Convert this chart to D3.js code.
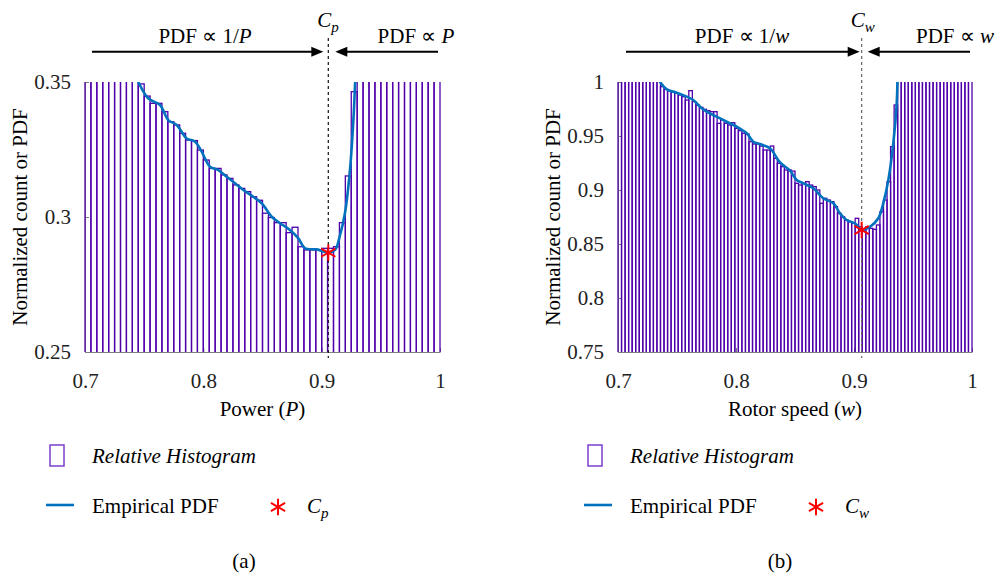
<!DOCTYPE html>
<html>
<head>
<meta charset="utf-8">
<script src="https://cdn.jsdelivr.net/npm/d3@7"></script>
<style>
body{margin:0;background:#fff}
svg{display:block}
</style>
</head>
<body>
<div id="chart"></div>
<script>
(function(){

// ---------- data ----------
const xTicks = [0.7, 0.8, 0.9, 1];

// (a) power
const powerBinStart = 0.7;
const powerBinWidth = 0.005;
const powerHist = [
0.36,0.36,0.36,0.36,0.36,0.36,0.36,0.36,0.36,
0.3493,0.3448,0.3421,0.3421,0.3390,0.3353,0.3341,0.3310,0.3285,0.3283,
0.3248,0.3211,0.3180,0.3180,0.3156,0.3143,0.3119,0.3106,0.3094,0.3075,
0.3062,0.3014,0.2998,0.2979,0.2979,0.2942,0.2962,0.2890,0.2878,0.2878,
0.2878,0.2884,0.2884,0.2890,0.2979,0.3152,0.3464,
0.36,0.36,0.36,0.36,0.36,0.36,0.36,0.36,0.36,0.36,0.36,0.36,0.36,0.36
];
const powerPdfX = [0.7440,0.7521,0.7564,0.7634,0.7704,0.7775,0.7859,0.7930,0.7986,0.8056,0.8127,0.8197,0.8268,0.8338,0.8422,0.8493,0.8578,0.8648,0.8732,0.8803,0.8859,0.8958,0.9056,0.9113,0.9155,0.9197,0.9239,0.9268,0.9284];
const powerPdfY = [0.3510,0.3446,0.3431,0.3415,0.3359,0.3341,0.3291,0.3279,0.3242,0.3186,0.3174,0.3149,0.3125,0.3100,0.3075,0.3051,0.3001,0.2977,0.2952,0.2921,0.2884,0.2880,0.2868,0.2878,0.2933,0.3015,0.3174,0.3359,0.3510];
const powerYTicks = [0.25, 0.3, 0.35];
const Cp = [0.9056, 0.2868];

// (b) rotor speed
const speedBinStart = 0.7;
const speedBinWidth = 0.003;
const speedHist = [
1.02,1.02,1.02,1.02,1.02,1.02,1.02,1.02,1.02,1.02,1.02,1.02,
0.9957,0.9932,0.9920,0.9910,0.9900,0.9880,0.9864,0.9833,0.9920,0.9818,
0.9787,0.9765,0.9747,0.9734,0.9725,0.9725,0.9617,0.9648,0.9617,0.9602,
0.9623,0.9571,0.9549,0.9525,0.9519,0.9447,0.9426,0.9426,0.9407,0.9370,
0.9370,0.9407,0.9293,0.9247,0.9216,0.9185,0.9185,0.9175,0.9062,0.9046,
0.9062,0.9077,0.9046,0.9031,0.9000,0.8877,0.8923,0.8907,0.8892,0.8846,
0.8784,0.8753,0.8722,0.8707,0.8692,0.8738,0.8660,0.8630,0.8660,0.8645,
0.8636,0.8676,0.8799,0.8907,0.9077,0.9401,0.9787,
1.02,1.02,1.02,1.02,1.02,1.02,1.02,1.02,1.02,1.02,1.02,1.02,1.02,1.02,1.02,1.02,1.02,1.02,1.02,1.02,1.02
];
const speedPdfX = [0.7350,0.7413,0.7497,0.7582,0.7638,0.7695,0.7752,0.7836,0.7921,0.8006,0.8091,0.8147,0.8203,0.8288,0.8373,0.8458,0.8514,0.8570,0.8655,0.8740,0.8825,0.8881,0.8938,0.9008,0.9065,0.9136,0.9206,0.9248,0.9291,0.9333,0.9362,0.9368];
const speedPdfY = [1.0010,0.9932,0.9901,0.9864,0.9833,0.9771,0.9725,0.9679,0.9632,0.9586,0.9525,0.9447,0.9426,0.9386,0.9255,0.9180,0.9093,0.9062,0.9016,0.8923,0.8877,0.8784,0.8722,0.8692,0.8630,0.8660,0.8738,0.8877,0.9093,0.9432,0.9803,1.0010];
const speedYTicks = [0.75, 0.8, 0.85, 0.9, 0.95, 1];
const Cw = [0.9065, 0.8630];

// ---------- svg ----------
const W = 997, H = 577;
const FONT = "Liberation Serif";
const svg = d3.select("#chart").append("svg")
  .attr("width", W).attr("height", H)
  .attr("font-family", FONT);

const purple = "#5000aa";
const blue = "#0072bd";
const axisGrey = "#7f7f7f";

function txt(sel, x, y){
  return sel.append("text").attr("x", x).attr("y", y)
    .attr("font-family", FONT).attr("font-size", 21).attr("fill", "#000");
}

function panel(cfg){
  const x = d3.scaleLinear().domain([0.7, 1]).range([cfg.x0, cfg.x1]);
  const y = d3.scaleLinear().domain(cfg.yDomain).range([352, 82]);
  const g = svg.append("g").attr("font-family", FONT);

  g.append("clipPath").attr("id", cfg.id + "clip")
    .append("rect")
    .attr("x", cfg.x0 - 1).attr("y", 82)
    .attr("width", cfg.x1 - cfg.x0 + 2).attr("height", 270);

  // axes
  const yAxis = g.append("g")
    .attr("transform", `translate(${cfg.x0},0)`)
    .call(d3.axisLeft(y).tickValues(cfg.yTicks).tickFormat(d => String(d))
      .tickSizeInner(-4).tickSizeOuter(0).tickPadding(14));
  const xAxis = g.append("g")
    .attr("transform", "translate(0,352)")
    .call(d3.axisBottom(x).tickValues(xTicks).tickFormat(d => String(d))
      .tickSizeInner(-4).tickSizeOuter(0).tickPadding(21));
  [yAxis, xAxis].forEach(a => {
    a.attr("font-family", FONT).attr("font-size", 21);
    a.select(".domain").attr("stroke", axisGrey);
    a.selectAll(".tick line").attr("stroke", axisGrey);
    a.selectAll("text").attr("font-size", 21)
      .attr("font-family", FONT).attr("fill", "#222");
  });

  // histogram bars
  const bins = cfg.hist.map((v, i) => ({
    x0: cfg.binStart + i * cfg.binWidth,
    x1: cfg.binStart + (i + 1) * cfg.binWidth,
    v: v
  }));
  g.append("g").attr("clip-path", `url(#${cfg.id}clip)`)
    .selectAll("rect")
    .data(bins)
    .enter()
    .append("rect")
    .attr("x", d => x(d.x0))
    .attr("width", d => x(d.x1) - x(d.x0))
    .attr("y", d => y(d.v))
    .attr("height", d => y(cfg.yDomain[0]) - y(d.v) + 3)
    .attr("fill", "none")
    .attr("stroke", purple)
    .attr("stroke-width", 1.3);

  // empirical pdf
  const pts = cfg.pdfX.map((v, i) => [v, cfg.pdfY[i]]);
  const line = d3.line()
    .x(d => x(d[0])).y(d => y(d[1]))
    .curve(d3.curveCatmullRom.alpha(0.5));
  g.append("path")
    .attr("clip-path", `url(#${cfg.id}clip)`)
    .attr("d", line(pts))
    .attr("fill", "none")
    .attr("stroke", blue)
    .attr("stroke-width", 2.6);

  // threshold line + star
  const cx = x(cfg.C[0]);
  g.append("line")
    .attr("x1", cx).attr("x2", cx).attr("y1", 38).attr("y2", 358)
    .attr("stroke", cfg.dashColor).attr("stroke-width", 1.2)
    .attr("stroke-dasharray", "3,3");

  const star = d3.symbol(d3.symbolAsterisk, 190);
  g.append("path")
    .attr("d", star())
    .attr("transform", `translate(${cx},${y(cfg.C[1])})`)
    .attr("fill", "none").attr("stroke", "#ff0000").attr("stroke-width", 2);

  // arrows
  const ay = 51.7;
  g.append("line").attr("x1", cfg.x0 + cfg.arrowIn).attr("x2", cx + cfg.tipL - 10)
    .attr("y1", ay).attr("y2", ay).attr("stroke", "#000").attr("stroke-width", 2);
  g.append("path")
    .attr("d", `M${cx + cfg.tipL},${ay}L${cx + cfg.tipL - 12},${ay - 5}L${cx + cfg.tipL - 12},${ay + 5}Z`)
    .attr("fill", "#000");
  g.append("line").attr("x1", cx + cfg.tipR + 10).attr("x2", cfg.x1 - 2)
    .attr("y1", ay).attr("y2", ay).attr("stroke", "#000").attr("stroke-width", 2);
  g.append("path")
    .attr("d", `M${cx + cfg.tipR},${ay}L${cx + cfg.tipR + 12},${ay - 5}L${cx + cfg.tipR + 12},${ay + 5}Z`)
    .attr("fill", "#000");

  // annotation texts
  const t1 = txt(g, cfg.leftTextX, 43).attr("text-anchor", "middle");
  t1.append("tspan").text("PDF \u221D 1/");
  t1.append("tspan").attr("font-style", "italic").text(cfg.v);

  const t2 = txt(g, cfg.rightTextX, 43).attr("text-anchor", "middle");
  t2.append("tspan").text("PDF \u221D ");
  t2.append("tspan").attr("font-style", "italic").text(cfg.v);

  const ct = txt(g, cx - 11, 27).attr("font-style", "italic");
  ct.append("tspan").text("C");
  ct.append("tspan").attr("font-size", 15).attr("dy", 5).text(cfg.sub);

  // axis labels
  g.append("text")
    .attr("transform", `translate(${cfg.x0 - 58},${217}) rotate(-90)`)
    .attr("text-anchor", "middle").attr("font-size", 21)
    .attr("font-family", FONT)
    .text("Normalized count or PDF");
  const xl = txt(g, (cfg.x0 + cfg.x1) / 2, 416).attr("text-anchor", "middle");
  xl.append("tspan").text(cfg.xLabel + " (");
  xl.append("tspan").attr("font-style", "italic").text(cfg.v);
  xl.append("tspan").text(")");

  // legend
  const lx = cfg.legendX;
  g.append("rect").attr("x", lx).attr("y", 445).attr("width", 14).attr("height", 21)
    .attr("fill", "none").attr("stroke", "#7d3fd0").attr("stroke-width", 1.5);
  txt(g, lx + 42, 463).attr("font-style", "italic").text("Relative Histogram");
  g.append("line").attr("x1", lx - 4).attr("x2", lx + 24).attr("y1", 505).attr("y2", 505)
    .attr("stroke", blue).attr("stroke-width", 2.6);
  txt(g, lx + 42, 513).text("Empirical PDF");
  g.append("path").attr("d", star())
    .attr("transform", `translate(${lx + 228},507)`)
    .attr("fill", "none").attr("stroke", "#ff0000").attr("stroke-width", 2);
  const lc = txt(g, lx + 257, 513).attr("font-style", "italic");
  lc.append("tspan").text("C");
  lc.append("tspan").attr("font-size", 15).attr("dy", 5).text(cfg.sub);

  txt(g, cfg.captionX, 568).attr("text-anchor", "middle").text(cfg.caption);
}

panel({
  id: "pw", x0: 85, x1: 440, yDomain: [0.25, 0.35], yTicks: powerYTicks,
  binStart: powerBinStart, binWidth: powerBinWidth, hist: powerHist,
  pdfX: powerPdfX, pdfY: powerPdfY, C: Cp, dashColor: "#111",
  arrowIn: 7, tipL: -5, tipR: 7, leftTextX: 205, rightTextX: 416,
  v: "P", sub: "p", xLabel: "Power", legendX: 50, captionX: 244, caption: "(a)"
});

panel({
  id: "sp", x0: 618, x1: 972, yDomain: [0.75, 1], yTicks: speedYTicks,
  binStart: speedBinStart, binWidth: speedBinWidth, hist: speedHist,
  pdfX: speedPdfX, pdfY: speedPdfY, C: Cw, dashColor: "#666",
  arrowIn: 8, tipL: -2, tipR: 6, leftTextX: 742, rightTextX: 955,
  v: "w", sub: "w", xLabel: "Rotor speed", legendX: 588, captionX: 780, caption: "(b)"
});

})();
</script>
</body>
</html>
